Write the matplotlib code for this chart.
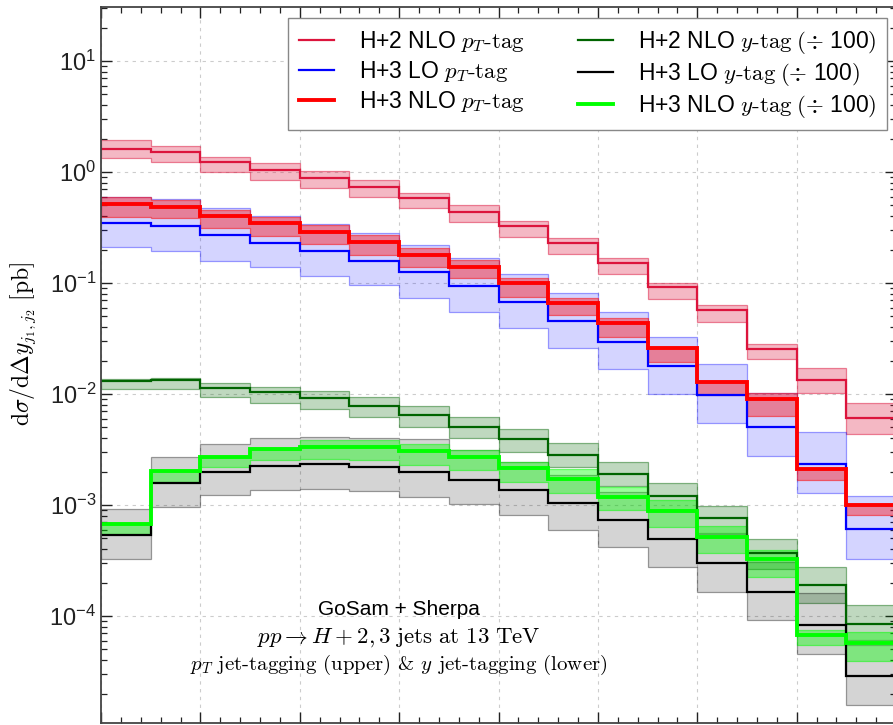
import numpy as np
import matplotlib
matplotlib.use("Agg")
import matplotlib.pyplot as plt
from matplotlib.ticker import MultipleLocator, LogLocator, NullFormatter, FixedLocator

plt.rcParams['font.family'] = ['Liberation Sans', 'DejaVu Sans']
plt.rcParams['mathtext.fontset'] = 'cm'

# bin edges in Delta y_{j1,j2}
edges = np.arange(0, 8.5, 0.5)
yMajor = [1e-4, 1e-3, 1e-2, 1e-1, 1e0, 1e1]

# H+2 NLO pT-tag
h2nloPt = [1.611, 1.514, 1.230, 1.042, 0.883, 0.732, 0.583, 0.436, 0.326, 0.229, 0.1515, 0.0920, 0.0571, 0.0254, 0.01337, 0.00608]
h2nloPtUp = [1.943, 1.715, 1.365, 1.205, 1.021, 0.847, 0.647, 0.504, 0.362, 0.254, 0.168, 0.100, 0.0633, 0.0282, 0.01715, 0.00830]
h2nloPtDn = [1.337, 1.230, 1.000, 0.847, 0.718, 0.595, 0.474, 0.354, 0.260, 0.1825, 0.1206, 0.0718, 0.0445, 0.02067, 0.01021, 0.00436]

# H+3 LO pT-tag
h3loPt = [0.347, 0.326, 0.2707, 0.2293, 0.1942, 0.1579, 0.1256, 0.0939, 0.0674, 0.0455, 0.0294, 0.01788, 0.00979, 0.00504, 0.00234, 0.000608]
h3loPtUp = [0.595, 0.571, 0.474, 0.4015, 0.340, 0.282, 0.220, 0.168, 0.1206, 0.0813, 0.0548, 0.0326, 0.01864, 0.01021, 0.00455, 0.001206]
h3loPtDn = [0.211, 0.1942, 0.1579, 0.1394, 0.1156, 0.0959, 0.0733, 0.0548, 0.0393, 0.0260, 0.0168, 0.0100, 0.00548, 0.00276, 0.00128, 0.000326]

# H+3 NLO pT-tag
h3nloPt = [0.515, 0.484, 0.4015, 0.347, 0.288, 0.234, 0.1788, 0.1394, 0.100, 0.0660, 0.0436, 0.0260, 0.01282, 0.00901, 0.00211, 0.00100]
h3nloPtUp = [0.595, 0.559, 0.4545, 0.393, 0.333, 0.2707, 0.2067, 0.161, 0.1109, 0.0733, 0.0484, 0.0265, 0.0131, 0.01021, 0.00212, 0.00100]
h3nloPtDn = [0.393, 0.385, 0.313, 0.265, 0.2245, 0.1788, 0.1394, 0.1109, 0.0748, 0.0515, 0.0326, 0.01943, 0.00979, 0.00634, 0.00168, 0.000813]

# H+2 NLO y-tag (/100)
h2nloY = [0.0131, 0.01337, 0.01133, 0.01042, 0.0092, 0.0078, 0.00647, 0.00504, 0.00393, 0.00282, 0.0019, 0.001206, 0.000764, 0.00037, 0.00019, 0.0000847]
h2nloYUp = [0.01365, 0.01393, 0.01256, 0.01156, 0.01064, 0.0094, 0.0078, 0.0062, 0.00484, 0.00362, 0.00244, 0.00158, 0.00098, 0.000494, 0.000276, 0.0001256]
h2nloYDn = [0.01109, 0.01109, 0.0094, 0.0083, 0.00733, 0.0062, 0.00504, 0.00401, 0.0030, 0.0022, 0.00148, 0.000901, 0.00056, 0.000265, 0.000131, 0.0000608]

# H+3 LO y-tag (/100)
h3loY = [0.000537, 0.00158, 0.00198, 0.002245, 0.00234, 0.0022, 0.00198, 0.00168, 0.001365, 0.001042, 0.000733, 0.000494, 0.0003, 0.0001645, 0.000083, 0.0000288]
h3loYUp = [0.00092, 0.0027, 0.00354, 0.00401, 0.0041, 0.00401, 0.00393, 0.00313, 0.00244, 0.001864, 0.00131, 0.000883, 0.000548, 0.000307, 0.000161, 0.0000548]
h3loYDn = [0.000326, 0.00096, 0.00123, 0.001365, 0.00139, 0.001337, 0.00118, 0.00102, 0.000813, 0.000595, 0.000418, 0.000276, 0.0001645, 0.000092, 0.0000455, 0.0000158]

# H+3 NLO y-tag (/100)
h3nloY = [0.000674, 0.002025, 0.0027, 0.0032, 0.00333, 0.00333, 0.00307, 0.0027, 0.00215, 0.001715, 0.00118, 0.000883, 0.000515, 0.000326, 0.0000674, 0.0000571]
h3nloYUp = [0.000689, 0.002025, 0.00276, 0.00326, 0.00385, 0.00385, 0.00354, 0.00313, 0.00244, 0.00211, 0.001453, 0.00111, 0.000647, 0.000393, 0.0000748, 0.0000718]
h3nloYDn = [0.000548, 0.00161, 0.0022, 0.00254, 0.0026, 0.00254, 0.00229, 0.002067, 0.00161, 0.00128, 0.000901, 0.000633, 0.00037, 0.000225, 0.0000548, 0.0000393]

series = [
    (r"H+2 NLO $p_T\text{-tag}$", h2nloPt, h2nloPtUp, h2nloPtDn, "#dc143c", 0.30, 1.6),
    (r"H+3 LO $p_T\text{-tag}$", h3loPt, h3loPtUp, h3loPtDn, "#0000ff", 0.17, 1.6),
    (r"H+3 NLO $p_T\text{-tag}$", h3nloPt, h3nloPtUp, h3nloPtDn, "#ff0000", 0.40, 2.8),
    (r"H+2 NLO $y\text{-tag}\;(\div$ 100$)$", h2nloY, h2nloYUp, h2nloYDn, "#006400", 0.25, 1.6),
    (r"H+3 LO $y\text{-tag}\;(\div$ 100$)$", h3loY, h3loYUp, h3loYDn, "#000000", 0.17, 1.6),
    (r"H+3 NLO $y\text{-tag}\;(\div$ 100$)$", h3nloY, h3nloYUp, h3nloYDn, "#00ff00", 0.40, 2.8),
]

fig = plt.figure(figsize=(8.93, 7.25), dpi=100)
ax = fig.add_axes([101/893, 2/725, 795/893, 716/725])

for name, cen, up, dn, col, alpha, lw in series:
    ax.stairs(up, edges, baseline=dn, fill=True, facecolor=(col, alpha),
              edgecolor=(col, min(alpha + 0.2, 0.5)), linewidth=0.9)
handles = []
for name, cen, up, dn, col, alpha, lw in series:
    ax.stairs(cen, edges, baseline=None, color=col, linewidth=lw)
    h, = ax.plot([], [], color=col, linewidth=lw, label=name)
    handles.append(h)

ax.set_yscale("log")
ax.set_xlim(0, 8)
ax.set_ylim(1.087e-5, 30.65)
ax.xaxis.set_major_locator(MultipleLocator(1))
ax.xaxis.set_minor_locator(MultipleLocator(0.2))
ax.yaxis.set_major_locator(FixedLocator(yMajor))
ax.yaxis.set_minor_locator(LogLocator(base=10, subs=np.arange(2, 10)))
ax.yaxis.set_minor_formatter(NullFormatter())
ax.tick_params(which="both", direction="in", top=True, right=True, labelsize=17,
               colors="#222222", labelbottom=False)
ax.tick_params(which="major", length=8, width=1)
ax.tick_params(which="minor", length=4, width=0.9)
for s in ax.spines.values():
    s.set_linewidth(1.3)
    s.set_color("#444444")
ax.grid(True, which="major", color="#cccccc", linestyle=(0, (3, 4)), linewidth=0.8)
ax.set_axisbelow(True)

ax.set_ylabel(r"$\mathrm{d}\sigma/\mathrm{d}\Delta y_{j_1,j_2}\ \mathrm{[pb]}$", fontsize=17)
ax.yaxis.set_label_coords(-0.079, 0.529)

ax.legend(handles=handles, ncol=2, loc="upper right", bbox_to_anchor=(0.989, 0.984),
          borderaxespad=0, fontsize=16.5, frameon=True, fancybox=False,
          edgecolor="#888888", framealpha=1, labelspacing=0.22, handlelength=1.55,
          handletextpad=1.1, columnspacing=2.3, borderpad=0.45)

ax.text(0.375, 0.158, "GoSam + Sherpa", transform=ax.transAxes, ha="center", va="center", fontsize=15)
ax.text(0.375, 0.119, r"$pp \rightarrow H+2,3\ \mathrm{jets\ at\ 13\ TeV}$", transform=ax.transAxes,
        ha="center", va="center", fontsize=16.5)
ax.text(0.375, 0.081, r"$p_T$ jet-tagging (upper) & $y$ jet-tagging (lower)", family="cmr10",
        transform=ax.transAxes, ha="center", va="center", fontsize=15)

fig.savefig("out.png", dpi=100)
